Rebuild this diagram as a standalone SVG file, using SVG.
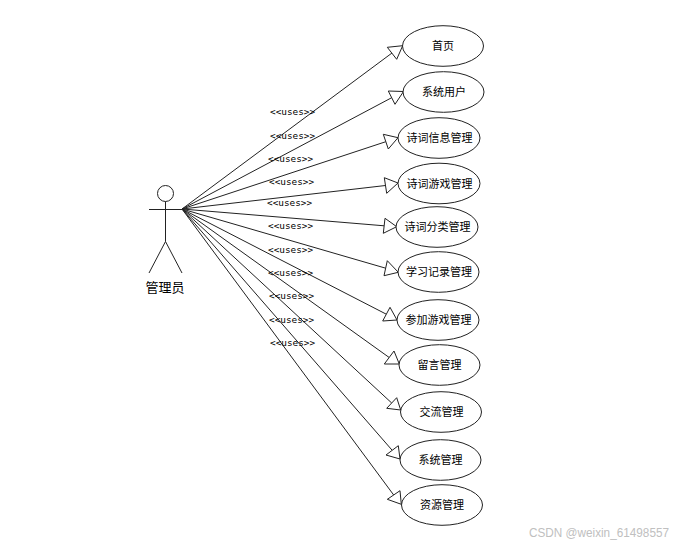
<svg xmlns="http://www.w3.org/2000/svg" width="687" height="547" viewBox="0 0 687 547">
<style>
.s{fill:none;stroke:#222;stroke-width:1}
.e{fill:#fff;stroke:#222;stroke-width:1}
.h{fill:#fff;stroke:#222;stroke-width:1;stroke-linejoin:miter}
.t{font-family:"Noto Sans CJK SC","Liberation Sans",sans-serif;font-size:11px;fill:#000;text-anchor:middle}
.u{font-family:"DejaVu Sans Mono",monospace;font-size:9.4px;fill:#000}
.a{font-family:"Noto Sans CJK SC","Liberation Sans",sans-serif;font-size:13px;fill:#000;text-anchor:middle}
.w{font-family:"Liberation Sans",sans-serif;font-size:12.5px;fill:#c0c0c0}
</style>
<rect width="687" height="547" fill="#fff"/>
<g id="connectors">
<path class="s" d="M182 209L392 53"/><polygon class="h" points="402.7,45.7 387.3,47.3 396.7,59.3"/>
<path class="s" d="M182 209L391.7 97.7"/><polygon class="h" points="403.5,91.5 388.3,91 395,104.3"/>
<path class="s" d="M182 209L385.8 141.7"/><polygon class="h" points="398,137.7 383.3,134.3 388.3,149"/>
<path class="s" d="M182 209L385.5 185.5"/><polygon class="h" points="398,183 384.3,177.7 386.7,193.3"/>
<path class="s" d="M182 209L384.2 225.8"/><polygon class="h" points="396.7,226.7 385,218.3 383.3,233.3"/>
<path class="s" d="M182 209L385.7 268.2"/><polygon class="h" points="398.3,272.3 387.3,260.7 384,275.7"/>
<path class="s" d="M182 209L386.3 314.2"/><polygon class="h" points="397,320 390,307.3 382.7,321"/>
<path class="s" d="M182 209L389.2 357.5"/><polygon class="h" points="399.3,364 394,351 384.3,364"/>
<path class="s" d="M182 209L391.7 403"/><polygon class="h" points="400.7,410 396.7,397.7 386.7,408.3"/>
<path class="s" d="M182 209L392.2 450.3"/><polygon class="h" points="400,459 398.3,445.7 386,455"/>
<path class="s" d="M182 209L393.7 495"/><polygon class="h" points="401.3,504.3 400,490.7 387.3,499.3"/>
</g>
<g id="connector-labels">
<text class="u" x="270" y="115">&lt;&lt;uses&gt;&gt;</text>
<text class="u" x="270" y="138.500">&lt;&lt;uses&gt;&gt;</text>
<text class="u" x="268" y="161.500">&lt;&lt;uses&gt;&gt;</text>
<text class="u" x="269" y="184.500">&lt;&lt;uses&gt;&gt;</text>
<text class="u" x="267" y="206">&lt;&lt;uses&gt;&gt;</text>
<text class="u" x="268" y="228.500">&lt;&lt;uses&gt;&gt;</text>
<text class="u" x="268" y="252.500">&lt;&lt;uses&gt;&gt;</text>
<text class="u" x="268" y="275.500">&lt;&lt;uses&gt;&gt;</text>
<text class="u" x="269" y="298.500">&lt;&lt;uses&gt;&gt;</text>
<text class="u" x="269" y="322.500">&lt;&lt;uses&gt;&gt;</text>
<text class="u" x="270" y="345.500">&lt;&lt;uses&gt;&gt;</text>
</g>
<g id="actor">
<circle class="s" cx="165.500" cy="193.500" r="8"/>
<path class="s" d="M165.500 201.500V241.500M149 209.500H182M165.500 241.500L149 273M165.500 241.500L182 273"/>
<text class="a" x="165" y="292">管理员</text>
</g>
<g id="uc1"><ellipse class="e" cx="443" cy="46" rx="40.500" ry="20.300"/><text class="t" x="443" y="50">首页</text></g>
<g id="uc2"><ellipse class="e" cx="443.500" cy="92" rx="40.500" ry="20.300"/><text class="t" x="444" y="96">系统用户</text></g>
<g id="uc3"><ellipse class="e" cx="439" cy="138" rx="41" ry="20.300"/><text class="t" x="439.500" y="142">诗词信息管理</text></g>
<g id="uc4"><ellipse class="e" cx="439" cy="183.500" rx="41" ry="20.300"/><text class="t" x="439.500" y="187.500">诗词游戏管理</text></g>
<g id="uc5"><ellipse class="e" cx="437" cy="227" rx="41" ry="20.300"/><text class="t" x="437.500" y="231">诗词分类管理</text></g>
<g id="uc6"><ellipse class="e" cx="438.500" cy="272" rx="40.500" ry="20.300"/><text class="t" x="439" y="276">学习记录管理</text></g>
<g id="uc7"><ellipse class="e" cx="438" cy="320" rx="41" ry="20.300"/><text class="t" x="438.500" y="324">参加游戏管理</text></g>
<g id="uc8"><ellipse class="e" cx="439.500" cy="365" rx="40.500" ry="20.300"/><text class="t" x="439.500" y="369">留言管理</text></g>
<g id="uc9"><ellipse class="e" cx="441" cy="412" rx="40.500" ry="20.300"/><text class="t" x="441.500" y="416">交流管理</text></g>
<g id="uc10"><ellipse class="e" cx="440.500" cy="460" rx="40.500" ry="20.300"/><text class="t" x="440.500" y="464">系统管理</text></g>
<g id="uc11"><ellipse class="e" cx="442" cy="505" rx="40.500" ry="20.300"/><text class="t" x="442" y="509">资源管理</text></g>
<text class="w" x="529" y="537" textLength="140" lengthAdjust="spacingAndGlyphs">CSDN @weixin_61498557</text>
</svg>
